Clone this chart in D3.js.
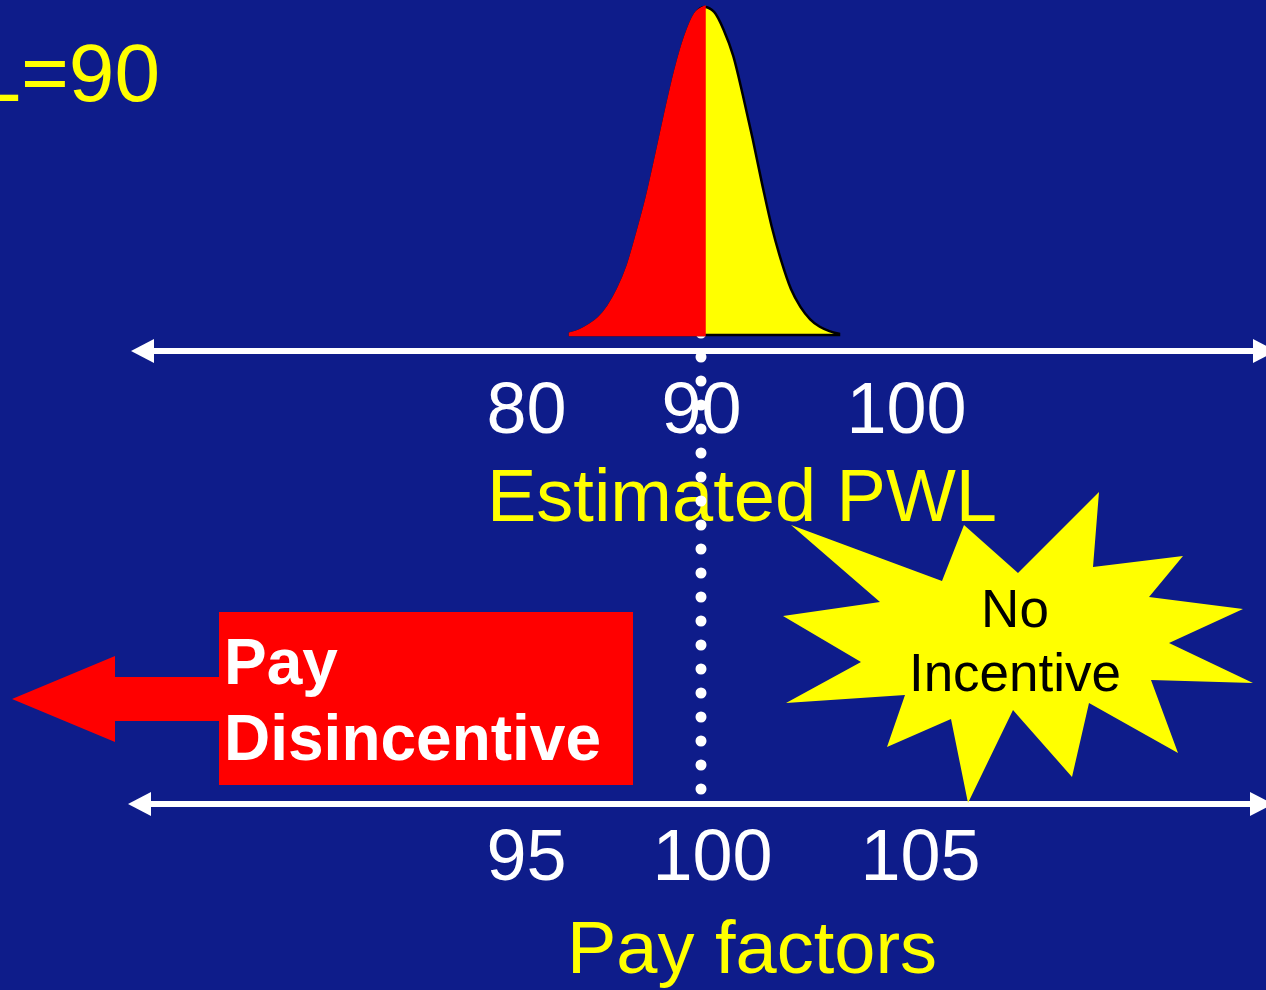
<!DOCTYPE html>
<html>
<head>
<meta charset="utf-8">
<script src="https://cdn.jsdelivr.net/npm/d3@7"></script>
<style>
  html, body { margin: 0; padding: 0; background: #0e1c8a; }
  svg { display: block; }
</style>
</head>
<body>
<div id="chart"></div>
<script>
// PWL (estimated) axis ticks and pay factor axis ticks
const pwlTicks = [80, 90, 100];
const payTicks = [95, 100, 105];
const pwlTarget = 90;

// bell curve: offset from the mean (PWL units) and relative height
const bellOffsets = [-7, -6.5, -6, -5.5, -5, -4.5, -4, -3.5, -3, -2.5, -2, -1.5, -1, -0.5, 0,
    0.5, 1, 1.5, 2, 2.5, 3, 3.5, 4, 4.5, 5, 5.5, 6, 6.5, 7];
const bellHeights = [0.005, 0.014, 0.03, 0.052, 0.088, 0.14, 0.21, 0.31, 0.42, 0.55, 0.685, 0.81, 0.91, 0.978, 1,
    0.985, 0.93, 0.85, 0.73, 0.6, 0.46, 0.33, 0.225, 0.14, 0.085, 0.048, 0.025, 0.012, 0.004];

const labels = {
    title: 'PWL=90',
    pwlAxis: 'Estimated PWL',
    payAxis: 'Pay factors',
    penalty: ['Pay', 'Disincentive'],
    neutral: ['No', 'Incentive']
};

const width = 1266;
const height = 990;
const bg = '#0e1c8a';
const font = '"Liberation Sans", Arial, Helvetica, sans-serif';

const svg = d3.select('#chart').append('svg')
    .attr('width', width)
    .attr('height', height)
    .attr('viewBox', [0, 0, width, height]);

svg.append('rect').attr('width', width).attr('height', height).attr('fill', bg);

// the tick labels were hand placed on the slide, so the scales are piecewise
const xPwl = d3.scaleLinear().domain([80, 90, 100]).range([526, 701, 906]);
const xPay = d3.scaleLinear().domain([95, 100, 105]).range([526, 712, 920]);

const topY = 351;
const botY = 804;

//double headed arrow line used for both axes
function arrowLine(y, x0, x1) {
    const g = svg.append('g');
    const head = 23, half = 12;
    g.append('line')
        .attr('x1', x0 + head - 2).attr('x2', x1 - head + 2)
        .attr('y1', y).attr('y2', y)
        .attr('stroke', 'white').attr('stroke-width', 6);
    g.append('path')
        .attr('d', `M${x0},${y}L${x0 + head},${y - half}L${x0 + head},${y + half}Z`)
        .attr('fill', 'white');
    g.append('path')
        .attr('d', `M${x1},${y}L${x1 - head},${y - half}L${x1 - head},${y + half}Z`)
        .attr('fill', 'white');
}

function styleAxis(g) {
    g.select('.domain').remove();
    g.selectAll('text')
        .attr('fill', 'white')
        .style('font-family', font)
        .style('font-size', '72px');
}

// axes (labels only, arrows drawn by hand)
svg.append('g')
    .attr('transform', `translate(0,${topY})`)
    .call(d3.axisBottom(xPwl).tickValues(pwlTicks).tickSize(0).tickPadding(31).tickFormat(d3.format('d')))
    .call(styleAxis);

svg.append('g')
    .attr('transform', `translate(0,${botY})`)
    .call(d3.axisBottom(xPay).tickValues(payTicks).tickSize(0).tickPadding(25).tickFormat(d3.format('d')))
    .call(styleAxis);

arrowLine(topY, 131, 1276);
arrowLine(botY, 128, 1273);

// axis titles
svg.append('text')
    .attr('x', 742).attr('y', 521)
    .attr('text-anchor', 'middle')
    .attr('fill', 'yellow')
    .style('font-family', font).style('font-size', '74px')
    .text(labels.pwlAxis);

svg.append('text')
    .attr('x', 752).attr('y', 973)
    .attr('text-anchor', 'middle')
    .attr('fill', 'yellow')
    .style('font-family', font).style('font-size', '74px')
    .text(labels.payAxis);

// title, cut off on the left like on the slide
svg.append('text')
    .attr('x', 160).attr('y', 101)
    .attr('text-anchor', 'end')
    .attr('fill', 'yellow')
    .style('font-family', font).style('font-size', '82px')
    .text(labels.title);

// pay disincentive arrow and box
svg.append('path')
    .attr('d', 'M12,699L115,656L115,677L222,677L222,721L115,721L115,742Z')
    .attr('fill', 'red');
svg.append('rect')
    .attr('x', 219).attr('y', 612)
    .attr('width', 414).attr('height', 173)
    .attr('fill', 'red');
svg.append('text')
    .attr('fill', 'white')
    .style('font-family', font).style('font-size', '64px').style('font-weight', 'bold')
    .selectAll('tspan')
    .data(labels.penalty)
    .join('tspan')
    .attr('x', 224)
    .attr('y', (d, i) => 684 + i * 76)
    .text(d => d);

// no incentive starburst
const star = [[791, 525], [942, 581], [964, 525], [1018, 573], [1099, 492], [1093, 567],
    [1183, 556], [1149, 597], [1243, 609], [1169, 643], [1253, 683], [1151, 680],
    [1178, 753], [1089, 703], [1072, 777], [1013, 710], [968, 803], [951, 719],
    [887, 747], [905, 695], [786, 703], [861, 662], [783, 616], [880, 602]];
svg.append('path')
    .attr('d', d3.line()(star) + 'Z')
    .attr('fill', 'yellow');
svg.append('text')
    .attr('text-anchor', 'middle')
    .attr('fill', 'black')
    .style('font-family', font).style('font-size', '53px')
    .selectAll('tspan')
    .data(labels.neutral)
    .join('tspan')
    .attr('x', 1015)
    .attr('y', (d, i) => 627 + i * 64)
    .text(d => d);

// dotted line at the target PWL
svg.append('line')
    .attr('x1', xPwl(pwlTarget)).attr('x2', xPwl(pwlTarget))
    .attr('y1', 333).attr('y2', 790)
    .attr('stroke', 'white')
    .attr('stroke-width', 11)
    .attr('stroke-linecap', 'round')
    .attr('stroke-dasharray', '0,24');

// bell curve of the estimated PWL
const bellData = bellOffsets.map((o, i) => ({v: pwlTarget + o, h: bellHeights[i]}));
const bx = d3.scaleLinear().domain([pwlTarget - 7, pwlTarget + 7]).range([570, 839]);
const by = d3.scaleLinear().domain([0, 1]).range([335, 7]);

const area = d3.area()
    .x(d => bx(d.v))
    .y0(by(0))
    .y1(d => by(d.h))
    .curve(d3.curveMonotoneX);

svg.append('path')
    .datum(bellData)
    .attr('d', area)
    .attr('fill', 'yellow')
    .attr('stroke', 'black')
    .attr('stroke-width', 2.5);

svg.append('path')
    .datum(bellData.filter(d => d.v <= pwlTarget))
    .attr('d', area)
    .attr('fill', 'red')
    .attr('stroke', 'red')
    .attr('stroke-width', 2.5);
</script>
</body>
</html>
